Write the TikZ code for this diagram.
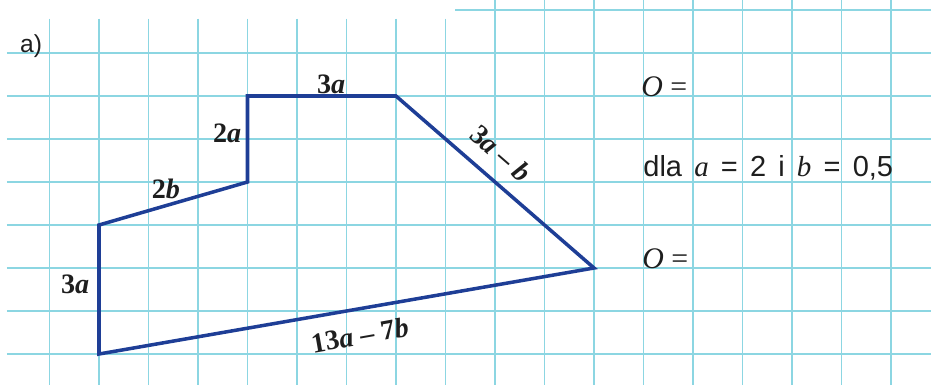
\documentclass[tikz,border=0pt]{standalone}
\usepackage{fontspec}
\setmainfont{Liberation Serif}
\setsansfont{Liberation Sans}
\usepackage{tikz}
\definecolor{gridcyan}{RGB}{140,214,226}
\definecolor{figblue}{RGB}{30,62,150}
\definecolor{ink}{RGB}{30,30,30}
\newcommand{\wsp}{\hspace{0.42em}}

\begin{document}
\begin{tikzpicture}[
  x=0.99cm, y=-0.86cm,
  gridline/.style={gridcyan, line width=0.6pt},
  fig/.style={figblue, line width=2pt, line join=miter},
  lbl/.style={ink, inner sep=0pt, font=\fontsize{16}{16}\selectfont\bfseries},
  txt/.style={ink, inner sep=0pt, font=\fontsize{17}{17}\selectfont},
  stxt/.style={ink, inner sep=0pt, font=\fontsize{14}{14}\selectfont\sffamily}]
\useasboundingbox (0,-0.2326) rectangle (18.808,8.721);
% grid
\foreach \j in {1,...,8}
  \draw[gridline] (0.14,\j) -- (18.808,\j);
\draw[gridline] (9.2,0) -- (18.808,0);
\foreach \g in {1,...,9}
  \draw[gridline] (\g,0.2) -- (\g,8.721);
\foreach \g in {10,...,18}
  \draw[gridline] (\g,-0.2326) -- (\g,8.721);
% figure
\coordinate (A) at (2,8);
\coordinate (B) at (2,5);
\coordinate (C) at (5,4);
\coordinate (D) at (5,2);
\coordinate (E) at (8,2);
\coordinate (F) at (12,6);
\draw[fig] (A) -- (B) -- (C) -- (D) -- (E) -- (F) -- cycle;
% labels
\node[stxt] (part) at (0.63,0.85) {a)};
\node[lbl] (sDE) at (6.69,1.72) {3\textit{a}};
\node[lbl] (sCD) at (4.59,2.86) {2\textit{a}};
\node[lbl] (sBC) at (3.35,4.16) {2\textit{b}};
\node[lbl, rotate=-41] (sEF) at (10.12,3.33) {3\textit{a} -- \textit{b}};
\node[lbl] (sAB) at (1.52,6.37) {3\textit{a}};
\node[lbl, rotate=10] (sFA) at (7.27,7.56) {13\textit{a} -- 7\textit{b}};
% task
\node[txt] (res1) at (13.42,1.79) {\textit{O} =};
\node[stxt, font=\fontsize{16.5}{16.5}\selectfont\sffamily] (cond) at (15.52,3.67)
  {dla\wsp{\rmfamily\itshape a}\wsp=\wsp2\wsp i\wsp{\rmfamily\itshape b}\wsp=\wsp0,5};
\node[txt] (res2) at (13.44,5.79) {\textit{O} =};
\end{tikzpicture}
\end{document}
